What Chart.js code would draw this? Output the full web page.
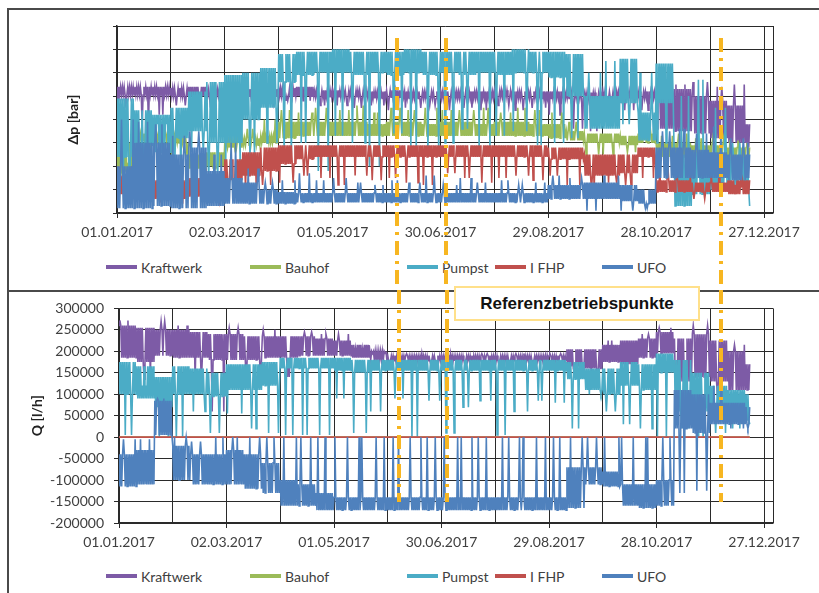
<!DOCTYPE html>
<html>
<head>
<meta charset="utf-8">
<script src="https://cdn.jsdelivr.net/npm/chart.js@4.4.1/dist/chart.umd.min.js"></script>
<style>
  body { margin: 0; background: #fff; }
  #page { position: relative; width: 819px; height: 593px; overflow: hidden; font-family: Lato, "Open Sans", sans-serif; }
  canvas { position: absolute; left: 0; }
  #topCanvas { top: 0; }
  #botCanvas { top: 290px; }
  .frame { position: absolute; border-color: #4a4a4a; border-style: solid; border-width: 0; }
  .legend { position: absolute; left: 0; width: 819px; height: 18px; }
  .legend .item { position: absolute; top: 0; height: 18px; display: flex; align-items: center; font-size: 14px; color: #404040; white-space: nowrap; }
  .legend i { display: inline-block; width: 31px; height: 4px; margin-right: 4px; }
  #refBox { position: absolute; left: 454px; top: 286px; width: 246px; height: 35px; box-sizing: border-box;
    border: 2px solid #FFE08A; background: #fff; font: bold 17px "Liberation Sans", Arial, sans-serif;
    display: flex; align-items: center; justify-content: center; color: #111; }
</style>
</head>
<body>
<div id="page">
  <div class="frame" style="left:7px;top:8px;width:830px;height:280px;border-top-width:2px;border-left-width:2px;border-bottom-width:2px;"></div>
  <div class="frame" style="left:7px;top:289px;width:10px;height:320px;border-left-width:2px;"></div>
  <div class="legend" id="legendTop" style="top:258px"></div>
  <div class="legend" id="legendBot" style="top:567px"></div>
  <canvas id="topCanvas" width="819" height="290"></canvas>
  <canvas id="botCanvas" width="819" height="303"></canvas>
  <div id="refBox">Referenzbetriebspunkte</div>
</div>
<script>
// series, in Excel drawing order (last one on top)
const seriesNames = ['Kraftwerk', 'Bauhof', 'Pumpst', 'I FHP', 'UFO'];
const seriesColors = ['#7D5BA6', '#9BBB59', '#4BACC6', '#C0504D', '#4F81BD'];

// days since 01.01.2017, one entry per 10-day block
const binStart = [0,10,20,30,40,50,60,70,80,90,100,110,120,130,140,150,160,170,180,190,
  200,210,220,230,240,250,260,270,280,290,300,310,320,330,340,350];
const lastDay = 352;
const xTicks = [0,30,60,90,120,150,180,210,240,270,300,330,360,365];
const refDays = [156, 183, 336];   // Referenzbetriebspunkte

// ---- top panel: delta p (grid units, no scale printed) ----
const kwHi = [5.4,5.4,5.4,5.35,5.4,5.3,5.3,5.3,5.3,5.35, 5.4,5.25,5.25,5.25,5.2,5.25,5.2,5.2,5.2,5.2, 5.2,5.25,5.2,5.2,5.2,5.2,5.15,5.2,5.2,5.2, 5.2,5.3,5.0,4.8,4.6,3.8];
const kwLo = [5.05,5.05,5.05,5.0,5.0,5.0,5.0,5.0,5.0,5.0, 5.0,4.95,4.95,4.95,4.9,4.95,4.9,4.9,4.9,4.9, 4.9,4.95,4.9,4.9,4.9,4.9,4.85,4.9,4.9,4.9, 3.6,3.5,3.4,3.2,3.0,2.8];
const kwDip = [4.5,3.7,4.2,4.6,3.9,4.5,4.7,4.7,4.7,4.8, 4.8,4.6,4.6,4.5,4.6,4.4,4.5,4.6,4.4,4.5, 4.4,4.6,4.4,4.5,4.2,3.6,3.5,4.3,4.4,4.4, 5.6,5.5,5.6,5.4,5.5,4.0];

const bhHi = [3.0,3.4,3.4,3.3,2.5,2.6,3.1,3.2,3.3,3.9, 3.9,3.9,3.9,3.9,3.8,3.9,3.9,3.8,3.9,3.9, 3.8,3.9,3.9,3.8,3.8,3.5,3.4,3.4,3.3,3.4, 3.0,3.0,2.9,2.9,2.8,2.8];
const bhLo = [1.8,3.1,3.1,3.0,1.9,2.0,2.8,2.9,3.0,3.2, 3.3,3.3,3.3,3.3,3.3,3.3,3.3,3.3,3.3,3.3, 3.3,3.3,3.3,3.3,3.2,3.1,3.0,3.0,2.9,3.0, 2.4,2.4,2.3,2.3,2.2,2.3];
const bhDip = [2.0,2.6,3.7,2.4,1.8,1.9,3.5,3.6,4.0,4.4, 4.3,4.5,4.4,4.6,4.3,4.5,4.4,4.5,4.4,4.4, 4.5,4.3,4.5,4.4,4.3,3.9,2.5,2.5,2.6,3.8, 3.3,3.4,3.2,3.2,3.1,3.0];

const puHi = [4.9,4.4,4.2,4.5,5.2,5.6,5.9,6.0,6.2,6.8, 6.9,6.9,7.0,6.9,6.9,6.9,7.0,6.9,6.9,6.9, 6.9,6.9,7.0,6.9,6.9,6.8,5.0,5.0,6.6,4.3, 6.4,2.5,2.6,2.5,2.4,2.0];
const puLo = [2.4,2.9,2.6,3.2,3.5,3.0,3.0,4.0,4.5,5.6, 5.9,6.0,6.0,5.9,6.0,5.9,6.0,5.9,6.0,5.9, 6.0,5.9,6.0,6.0,5.8,5.0,3.6,3.6,4.7,3.1, 4.7,0.3,0.8,1.0,1.2,1.0];
const puDip = [1.0,1.6,3.8,1.4,2.6,1.5,2.2,2.4,3.0,2.5, 3.0,1.8,3.3,3.0,2.0,3.4,2.8,2.6,3.0,3.6, 2.8,3.3,3.5,2.9,3.0,3.2,6.0,6.5,3.8,6.0, 3.0,5.0,5.7,4.5,3.0,0.3];

const fhHi = [1.6,1.5,1.4,1.4,1.5,1.6,2.3,2.6,2.8,2.9, 2.9,2.9,2.9,2.9,2.9,2.9,2.9,2.9,2.9,2.9, 2.9,2.9,2.9,2.9,2.8,2.8,2.5,2.5,2.5,2.8, 1.4,1.4,1.3,1.3,1.4,1.4];
const fhLo = [0.8,0.6,0.6,0.6,0.7,0.8,1.4,1.6,1.8,2.1, 2.3,2.4,2.4,2.4,2.4,2.4,2.4,2.4,2.4,2.4, 2.4,2.4,2.4,2.4,2.3,2.3,1.6,1.6,1.7,2.4, 0.9,0.9,0.9,0.9,0.8,0.8];
const fhDip = [2.0,1.8,0.5,0.4,1.9,0.5,0.8,1.0,1.2,1.3, 1.6,1.5,1.2,1.6,1.4,1.5,1.3,1.2,1.7,1.5, 1.3,1.5,1.6,1.4,1.6,1.2,1.0,1.3,1.2,1.5, 2.0,1.6,0.6,1.8,1.2,1.5];

const ufHi = [2.0,3.0,3.0,2.5,2.8,1.8,1.5,1.3,1.0,0.9, 0.85,0.85,0.85,0.85,0.85,0.85,0.85,0.85,0.85,0.85, 0.85,0.85,0.85,0.85,1.2,1.2,1.3,1.3,1.2,1.0, 2.8,2.8,2.7,2.6,2.5,2.5];
const ufLo = [0.2,0.2,0.3,0.2,0.2,0.3,0.4,0.4,0.4,0.4, 0.45,0.45,0.45,0.45,0.45,0.45,0.45,0.45,0.45,0.45, 0.45,0.45,0.45,0.45,0.6,0.6,0.6,0.6,0.5,0.4, 1.5,1.5,1.5,1.5,1.4,1.5];
const ufDip = [4.0,3.9,3.8,3.3,3.5,2.5,3.0,1.9,1.3,1.4, 1.7,1.4,1.5,1.3,1.2,1.4,1.3,1.6,1.2,1.5, 1.3,1.4,1.2,1.3,1.6,1.5,0.1,1.6,0.1,0.2, 3.5,3.6,3.4,3.7,3.2,3.0];

// ---- bottom panel: Q [l/h] ----
const kwQHi = [260000,255000,250000,250000,245000,240000,240000,235000,235000,235000, 235000,230000,225000,215000,200000,190000,190000,190000,190000,190000, 190000,190000,190000,190000,190000,205000,205000,215000,225000,230000, 245000,230000,240000,225000,200000,170000];
const kwQLo = [185000,175000,190000,185000,185000,180000,180000,180000,185000,185000, 190000,190000,190000,185000,180000,178000,178000,178000,178000,178000, 178000,178000,178000,178000,178000,165000,160000,175000,170000,185000, 195000,130000,140000,130000,110000,110000];
const kwQDip = [272000,135000,270000,260000,130000,60000,255000,120000,250000,140000, 245000,240000,240000,205000,195000,170000,195000,170000,195000,170000, 195000,170000,195000,170000,195000,170000,150000,225000,160000,240000, 255000,70000,260000,95000,215000,100000];

const bhQ = [0,0,0,0,0,0,0,0,0,0, 0,0,0,0,0,0,0,0,0,0, 0,0,0,0,0,0,0,0,0,0, 0,0,0,0,0,0];

const puQHi = [175000,165000,140000,165000,160000,150000,170000,170000,175000,185000, 185000,185000,185000,180000,180000,180000,180000,180000,180000,180000, 180000,180000,180000,180000,180000,175000,160000,160000,175000,170000, 195000,180000,150000,120000,110000,100000];
const puQLo = [100000,90000,70000,100000,100000,95000,110000,110000,120000,160000, 160000,160000,155000,150000,155000,155000,155000,155000,155000,155000, 155000,155000,155000,155000,155000,135000,110000,100000,120000,110000, 150000,60000,60000,60000,50000,40000];
const puQDip = [5000,120000,0,0,60000,10000,55000,20000,10000,5000, 5000,5000,90000,10000,60000,90000,0,85000,10000,70000, 85000,5000,60000,85000,80000,20000,100000,60000,30000,20000, 0,20000,0,10000,20000,30000];

const fhQ = [0,0,0,0,0,0,0,0,0,0, 0,0,0,0,0,0,0,0,0,0, 0,0,0,0,0,0,0,0,0,0, 0,0,0,0,0,0];

const ufQHi = [-40000,-30000,85000,-20000,-40000,-40000,-30000,-40000,-60000,-100000, -110000,-130000,-140000,-140000,-140000,-140000,-140000,-140000,-140000,-140000, -140000,-140000,-140000,-140000,-140000,-70000,-70000,-80000,-110000,-110000, -100000,110000,100000,80000,80000,70000];
const ufQLo = [-115000,-110000,5000,-100000,-110000,-110000,-110000,-120000,-130000,-160000, -160000,-170000,-170000,-170000,-170000,-170000,-170000,-170000,-170000,-170000, -170000,-170000,-170000,-170000,-170000,-165000,-110000,-115000,-160000,-165000, -160000,20000,10000,30000,30000,30000];
const ufQDip = [-5000,-5000,90000,0,-10000,0,0,0,0,0, 0,0,0,0,0,0,0,0,0,0, 0,0,0,0,0,0,0,0,0,0, 0,-130000,-125000,120000,20000,20000];

// each 10-day block is drawn as a dense band (hi/lo, every half day)
// with two spikes to the block's dip value; spike slots vary per block
function expand(hi, lo, dip, s) {
  const pts = [];
  binStart.forEach((d, k) => {
    const a = 1 + (k * 7 + s * 3) % 8;
    const b = 10 + (k * 5 + s * 2) % 9;
    for (let j = 0; j < 20; j++) {
      const x = d + j * 0.5;
      if (x > lastDay) break;
      const y = (j === a || j === b) ? dip[k] : (j % 2 ? lo[k] : hi[k]);
      pts.push({ x: x, y: y });
    }
  });
  return pts;
}

function fmtDay(v) {
  const d = new Date(Date.UTC(2017, 0, 1) + v * 86400000);
  const p = n => String(n).padStart(2, '0');
  return p(d.getUTCDate()) + '.' + p(d.getUTCMonth() + 1) + '.' + d.getUTCFullYear();
}

Chart.defaults.font.family = 'Lato';
Chart.defaults.font.size = 14;
Chart.defaults.color = '#404040';

const refLines = {
  id: 'refLines',
  afterDraw(chart, args, opts) {
    const ctx = chart.ctx;
    const xs = chart.scales.x;
    ctx.save();
    ctx.strokeStyle = '#F7B621';
    ctx.lineWidth = 4;
    ctx.setLineDash([14, 6, 3, 6]);
    refDays.forEach(d => {
      const px = Math.round(xs.getPixelForValue(d));
      ctx.beginPath();
      ctx.moveTo(px, opts.y0);
      ctx.lineTo(px, opts.y1);
      ctx.stroke();
    });
    ctx.restore();
  }
};

function makeDatasets(rows) {
  return rows.map((r, i) => ({
    label: seriesNames[i],
    data: expand(r[0], r[1], r[2], i),
    borderColor: seriesColors[i],
    backgroundColor: seriesColors[i],
    borderWidth: 1.6,
    pointRadius: 0,
    tension: 0,
    order: seriesNames.length - 1 - i
  }));
}

function xScale() {
  return {
    type: 'linear', min: 0, max: 365,
    afterBuildTicks: s => { s.ticks = xTicks.map(v => ({ value: v })); },
    ticks: {
      autoSkip: false, maxRotation: 0, padding: 6,
      callback: v => (v % 60 === 0 && v <= 360) ? fmtDay(v) : ''
    },
    grid: {
      color: '#2a2a2a', lineWidth: 1, tickLength: 5,
      tickColor: c => (c.tick && c.tick.value % 60 === 0 && c.tick.value <= 360) ? '#2a2a2a' : 'rgba(0,0,0,0)'
    },
    border: { color: '#2a2a2a', width: 1.5 },
    afterFit: s => { s.height = 40; }
  };
}

const baseOptions = {
  responsive: false, animation: false, parsing: false, normalized: true,
  events: []
};
const basePlugins = { legend: { display: false }, tooltip: { enabled: false } };

new Chart(document.getElementById('topCanvas'), {
  type: 'line',
  data: { datasets: makeDatasets([
    [kwHi, kwLo, kwDip], [bhHi, bhLo, bhDip], [puHi, puLo, puDip], [fhHi, fhLo, fhDip], [ufHi, ufLo, ufDip]
  ]) },
  options: {
    ...baseOptions,
    layout: { padding: { top: 26, left: 61, right: 46, bottom: 37 } },
    plugins: { ...basePlugins, refLines: { y0: 38, y1: 290 } },
    scales: {
      x: xScale(),
      y: {
        min: 0, max: 8,
        ticks: { display: false, stepSize: 1 },
        grid: { color: '#2a2a2a', tickLength: 4 },
        border: { color: '#2a2a2a', width: 1.5 },
        title: { display: true, text: 'Δp [bar]', font: { weight: 'bold', size: 14 }, color: '#222' },
        afterFit: s => { s.width = 56; }
      }
    }
  },
  plugins: [refLines]
});

new Chart(document.getElementById('botCanvas'), {
  type: 'line',
  data: { datasets: makeDatasets([
    [kwQHi, kwQLo, kwQDip], [bhQ, bhQ, bhQ], [puQHi, puQLo, puQDip], [fhQ, fhQ, fhQ], [ufQHi, ufQLo, ufQDip]
  ]) },
  options: {
    ...baseOptions,
    layout: { padding: { top: 18, left: 25, right: 46, bottom: 30 } },
    plugins: { ...basePlugins, refLines: { y0: 0, y1: 212 } },
    scales: {
      x: xScale(),
      y: {
        min: -200000, max: 300000,
        ticks: { stepSize: 50000, padding: 10, callback: v => String(v) },
        grid: { color: '#2a2a2a', tickLength: 5 },
        border: { color: '#2a2a2a', width: 1.5 },
        title: { display: true, text: 'Q [l/h]', font: { weight: 'bold', size: 14 }, color: '#222' },
        afterFit: s => { s.width = 94; }
      }
    }
  },
  plugins: [refLines]
});

// legends (Excel style, fixed columns)
const legendLeft = [106, 250, 407, 495, 602];
['legendTop', 'legendBot'].forEach(id => {
  const box = document.getElementById(id);
  seriesNames.forEach((name, i) => {
    const it = document.createElement('span');
    it.className = 'item';
    it.style.left = legendLeft[i] + 'px';
    const ln = document.createElement('i');
    ln.style.background = seriesColors[i];
    it.appendChild(ln);
    it.appendChild(document.createTextNode(name));
    box.appendChild(it);
  });
});
</script>
</body>
</html>
